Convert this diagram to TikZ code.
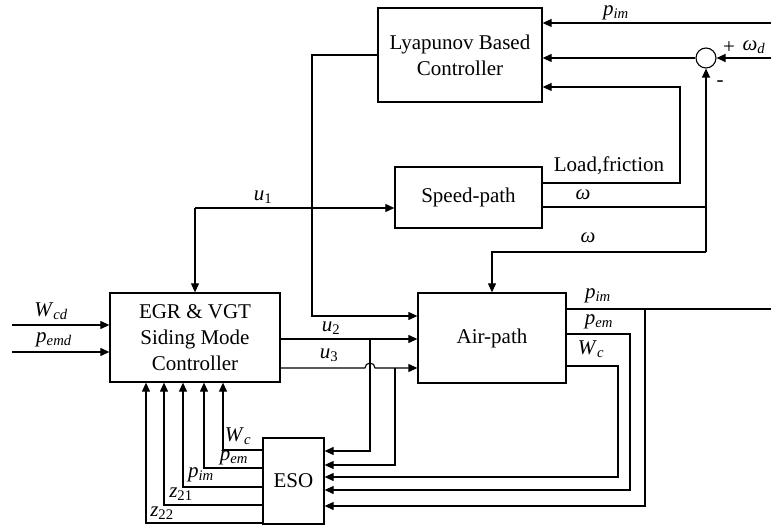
\documentclass[tikz,border=0pt]{standalone}
\usepackage{fontspec}
\setmainfont{Liberation Serif}
\usetikzlibrary{arrows.meta}
\newcommand{\vsub}[2]{\textit{#1}\textsubscript{\textit{#2}}}
\newcommand{\nsub}[2]{\textit{#1}\textsubscript{#2}}
\begin{document}
\begin{tikzpicture}[x=1pt,y=-1pt, line width=1.1pt,
 box/.style={draw, line width=1.3pt, inner sep=0pt, align=center, font=\fontsize{21}{26}\selectfont},
 arr/.style={-{Triangle[length=9pt,width=8pt]}},
 lab/.style={font=\fontsize{21}{23}\selectfont, inner sep=1pt}]
\useasboundingbox (0,0) rectangle (771,526);
% blocks
\node[box, minimum width=164pt, minimum height=94pt] (lyap) at (460,55) {Lyapunov Based\\Controller};
\node[box, minimum width=147pt, minimum height=61pt] (speed) at (468.5,197.5) {Speed-path};
\node[box, minimum width=170pt, minimum height=89pt] (egr) at (195,337.5) {EGR \& VGT\\Siding Mode\\Controller};
\node[box, minimum width=148pt, minimum height=90pt] (air) at (492,338) {Air-path};
\node[box, minimum width=61pt, minimum height=86pt] (eso) at (293.5,481) {ESO};
\node[draw, circle, line width=1.1pt, minimum size=20pt, inner sep=0pt] (sum) at (706,58) {};
% free ends and bends
\coordinate (pimin) at (771,23);
\coordinate (wd) at (771,58);
\coordinate (lf) at (680,183);
\coordinate (lfu) at (680,87);
\coordinate (wr) at (706,207);
\coordinate (wv) at (706,252);
\coordinate (wa) at (492,252);
\coordinate (lb) at (312,55);
\coordinate (lbd) at (312,316);
\coordinate (ub) at (195,208);
\coordinate (wcdin) at (12,325);
\coordinate (pemdin) at (12,352);
\coordinate (t2) at (370,339);
\coordinate (t2d) at (370,451);
\coordinate (t3) at (395,368);
\coordinate (t3d) at (395,465);
\coordinate (pout) at (771,309);
\coordinate (pb) at (645,309);
\coordinate (pbd) at (645,506);
\coordinate (pe) at (630,334);
\coordinate (ped) at (630,490);
\coordinate (wc) at (618,366);
\coordinate (wcd) at (618,477);
% Lyapunov inputs
\draw[arr] (pimin) -- (pimin -| lyap.east);
\draw[arr] (wd) -- (sum.east);
\draw[arr] (sum.west) -- (sum.west -| lyap.east);
\draw[arr] (lf -| speed.east) -- (lf) -- (lfu) -- (lfu -| lyap.east);
% omega
\draw (wr -| speed.east) -- (wr);
\draw[arr] (wv) -- (sum.south);
\draw[arr] (wv) -- (wa) -- (air.north);
% Lyapunov output
\draw[arr] (lyap.west) -- (lb) -- (lbd) -- (lbd -| air.west);
% u1
\draw[arr] (ub) -- (ub -| speed.west);
\draw[arr] (ub) -- (egr.north);
% references
\draw[arr] (wcdin) -- (wcdin -| egr.west);
\draw[arr] (pemdin) -- (pemdin -| egr.west);
% u2, u3
\draw[arr] (t2 -| egr.east) -- (t2 -| air.west);
\draw[arr] (t3 -| egr.east) -- (365,368) arc (180:360:5) -- (t3 -| air.west);
\draw[arr] (t2) -- (t2d) -- (t2d -| eso.east);
\draw[arr] (t3) -- (t3d) -- (t3d -| eso.east);
% air-path outputs
\draw (pb -| air.east) -- (pout);
\draw[arr] (pb) -- (pbd) -- (pbd -| eso.east);
\draw[arr] (pe -| air.east) -- (pe) -- (ped) -- (ped -| eso.east);
\draw[arr] (wc -| air.east) -- (wc) -- (wcd) -- (wcd -| eso.east);
% ESO outputs
\foreach \yy/\xx in {450/223, 468/204, 487/183, 505/164, 523/146}{
  \draw[arr] (eso.west |- 0,\yy) -- (\xx,\yy) -- (egr.south -| \xx,0);
}
% labels
\node[lab] (l1) at (616,13) {\vsub{p}{im}};
\node[lab] (l2) at (729,48) {+};
\node[lab] (l3) at (754,47) {\vsub{ω}{d}};
\node[lab] (l4) at (720,84) {-};
\node[lab] (l5) at (609,166) {Load,friction};
\node[lab] (l6) at (583,195) {\textit{ω}};
\node[lab] (l7) at (588,238) {\textit{ω}};
\node[lab] (l8) at (263,197) {\nsub{u}{1}};
\node[lab] (l9) at (51,311) {\vsub{W}{cd}};
\node[lab] (l10) at (54,340) {\vsub{p}{emd}};
\node[lab] (l11) at (331,328) {\nsub{u}{2}};
\node[lab] (l12) at (329,355) {\nsub{u}{3}};
\node[lab] (l13) at (598,296) {\vsub{p}{im}};
\node[lab] (l14) at (599,322) {\vsub{p}{em}};
\node[lab] (l15) at (591,349) {\vsub{W}{c}};
\node[lab] (l16) at (238,436) {\vsub{W}{c}};
\node[lab] (l17) at (234,457.5) {\vsub{p}{em}};
\node[lab] (l18) at (201,475) {\vsub{p}{im}};
\node[lab] (l19) at (181,494) {\nsub{z}{21}};
\node[lab] (l20) at (162,513) {\nsub{z}{22}};
\end{tikzpicture}
\end{document}
